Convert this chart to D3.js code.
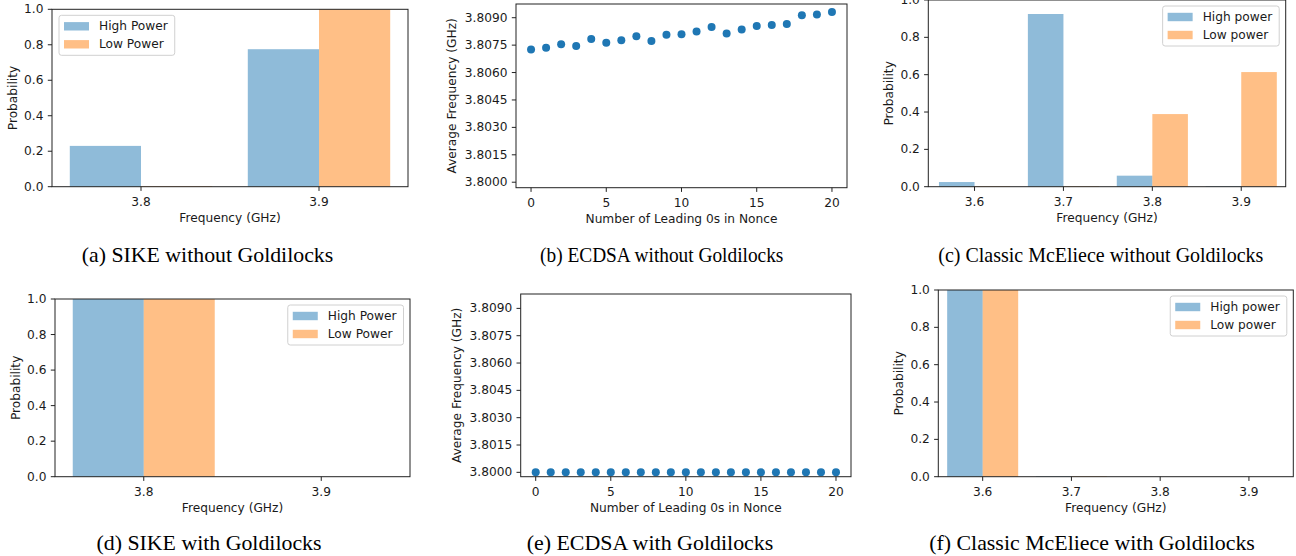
<!DOCTYPE html>
<html><head><meta charset="utf-8">
<script src="https://cdn.jsdelivr.net/npm/d3@7"></script>
<style>
html,body{margin:0;padding:0;background:#fff;}
svg{display:block;}
text{font-family:"DejaVu Sans",sans-serif;fill:#1a1a1a;}
.cap{font-family:"Liberation Serif","Times New Roman",serif;fill:#000;}
</style></head><body>
<script>
// ---------- DATA ----------
const sikeFreqs = [3.8, 3.9];
const sikeNoGoldHigh = [0.23, 0.775];
const sikeNoGoldLow = [0.004, 1.0];
const sikeGoldHigh = [1.0, 0.0];
const sikeGoldLow = [1.0, 0.0];

const mceFreqs = [3.6, 3.7, 3.8, 3.9];
const mceNoGoldHigh = [0.025, 0.925, 0.059, 0.003];
const mceNoGoldLow = [0.003, 0.003, 0.389, 0.614];
const mceGoldHigh = [1.0, 0.003, 0.0, 0.0];
const mceGoldLow = [1.0, 0.003, 0.0, 0.0];

const leadingZeros = [0,1,2,3,4,5,6,7,8,9,10,11,12,13,14,15,16,17,18,19,20];
const ecdsaNoGold = [3.80726,3.80735,3.80755,3.80745,3.80783,3.80763,3.80776,3.80798,3.80772,3.80807,3.8081,3.80825,3.80849,3.80814,3.80836,3.80854,3.8086,3.80865,3.80913,3.80918,3.80931];
const ecdsaGold = [3.8,3.8,3.8,3.8,3.8,3.8,3.8,3.8,3.8,3.8,3.8,3.8,3.8,3.8,3.8,3.8,3.8,3.8,3.8,3.8,3.8];

const probTicks = [0.0, 0.2, 0.4, 0.6, 0.8, 1.0];
const freqTicksEcdsa = [3.8000, 3.8015, 3.8030, 3.8045, 3.8060, 3.8075, 3.8090];
const zeroTicks = [0, 5, 10, 15, 20];
const legendSike = ["High Power", "Low Power"];
const legendMce = ["High power", "Low power"];
const captions = ["(a) SIKE without Goldilocks","(b) ECDSA without Goldilocks","(c) Classic McEliece without Goldilocks",
                  "(d) SIKE with Goldilocks","(e) ECDSA with Goldilocks","(f) Classic McEliece with Goldilocks"];

// ---------- STYLE ----------
const blue = "#1f77b4", orange = "#ff7f0e";
const W = 1296, H = 556;
const svg = d3.select("body").append("svg").attr("width", W).attr("height", H);

function axesFrame(g, r) {
  g.append("rect").attr("x", r.l).attr("y", r.t).attr("width", r.r - r.l).attr("height", r.b - r.t)
    .attr("fill", "none").attr("stroke", "#222").attr("stroke-width", 1);
}

function drawTicks(g, r, x, y, xt, yt, xfmt, yfmt) {
  const fs = 12.2;
  xt.forEach(v => {
    const px = x(v);
    g.append("line").attr("x1", px).attr("x2", px).attr("y1", r.b).attr("y2", r.b + 4.2).attr("stroke", "#222");
    g.append("text").attr("x", px).attr("y", r.b + 15).attr("text-anchor", "middle")
      .attr("dominant-baseline", "central").style("font-size", fs + "px").text(xfmt(v));
  });
  yt.forEach(v => {
    const py = y(v);
    g.append("line").attr("x1", r.l - 4.2).attr("x2", r.l).attr("y1", py).attr("y2", py).attr("stroke", "#222");
    g.append("text").attr("x", r.l - 8.5).attr("y", py).attr("text-anchor", "end")
      .attr("dominant-baseline", "central").style("font-size", fs + "px").text(yfmt(v));
  });
}

function labels(g, r, xl, yl, yoff) {
  g.append("text").attr("x", (r.l + r.r) / 2).attr("y", r.b + 31.6).attr("text-anchor", "middle")
    .attr("dominant-baseline", "central").style("font-size", "12.2px").text(xl);
  const cy = (r.t + r.b) / 2, cx = r.l - yoff;
  g.append("text").attr("transform", `translate(${cx},${cy}) rotate(-90)`).attr("text-anchor", "middle")
    .attr("dominant-baseline", "central").style("font-size", "12.2px").text(yl);
}

function legend(g, r, names, corner) {
  const fs = 12.2;
  const lg = g.append("g");
  const tmp = lg.append("text").style("font-size", fs + "px").text(names[0]);
  const tmp2 = lg.append("text").style("font-size", fs + "px").text(names[1]);
  const tw = Math.max(tmp.node().getComputedTextLength(), tmp2.node().getComputedTextLength());
  tmp.remove(); tmp2.remove();
  const bw = 40 + tw + 7, bh = 40;
  const bx = corner === "left" ? r.l + 7 : r.r - 6.5 - bw;
  const by = r.t + 6;
  lg.append("rect").attr("x", bx).attr("y", by).attr("width", bw).attr("height", bh).attr("rx", 2.5)
    .attr("fill", "#fff").attr("fill-opacity", 0.8).attr("stroke", "#d0d0d0").attr("stroke-width", 1);
  [blue, orange].forEach((c, i) => {
    const cy = by + 11 + i * 18;
    lg.append("rect").attr("x", bx + 5).attr("y", cy - 4.2).attr("width", 25).attr("height", 8.4)
      .attr("fill", c).attr("fill-opacity", 0.5);
    lg.append("text").attr("x", bx + 40).attr("y", cy).attr("dominant-baseline", "central")
      .style("font-size", fs + "px").text(names[i]);
  });
}

function barPanel(r, freqs, high, low, xdom, names, corner) {
  const g = svg.append("g");
  const x = d3.scaleLinear().domain(xdom).range([r.l, r.r]);
  const y = d3.scaleLinear().domain([0, 1]).range([r.b, r.t]);
  const bw = 0.04;
  const series = [{vals: high, c: blue, off: -bw}, {vals: low, c: orange, off: 0}];
  series.forEach(s => {
    g.selectAll(null).data(freqs).enter().append("rect")
      .attr("x", (d) => x(d + s.off))
      .attr("width", () => x(xdom[0] + bw) - x(xdom[0]))
      .attr("y", (d, i) => y(s.vals[i]))
      .attr("height", (d, i) => y(0) - y(s.vals[i]))
      .attr("fill", s.c).attr("fill-opacity", 0.5);
  });
  axesFrame(g, r);
  drawTicks(g, r, x, y, freqs, probTicks, d3.format(".1f"), d3.format(".1f"));
  labels(g, r, "Frequency (GHz)", "Probability", 39);
  legend(g, r, names, corner);
}

function scatterPanel(r, xs, ys, ydom) {
  const g = svg.append("g");
  const x = d3.scaleLinear().domain([-1, 21]).range([r.l, r.r]);
  const y = d3.scaleLinear().domain(ydom).range([r.b, r.t]);
  const clipId = "clip" + Math.round(r.l);
  g.append("clipPath").attr("id", clipId).append("rect").attr("x", r.l).attr("y", r.t)
    .attr("width", r.r - r.l).attr("height", r.b - r.t);
  g.append("g").attr("clip-path", `url(#${clipId})`).selectAll("circle").data(xs).enter().append("circle")
    .attr("cx", d => x(d)).attr("cy", (d, i) => y(ys[i])).attr("r", 4).attr("fill", blue);
  axesFrame(g, r);
  drawTicks(g, r, x, y, zeroTicks, freqTicksEcdsa, d3.format("d"), d3.format(".4f"));
  labels(g, r, "Number of Leading 0s in Nonce", "Average Frequency (GHz)", 64);
}

barPanel({l: 52, r: 408, t: 9.3, b: 186.7}, sikeFreqs, sikeNoGoldHigh, sikeNoGoldLow, [3.75, 3.95], legendSike, "left");
scatterPanel({l: 516, r: 847, t: 4, b: 187.7}, leadingZeros, ecdsaNoGold, [3.7997, 3.80975]);
barPanel({l: 928.3, r: 1285.7, t: 0, b: 186.7}, mceFreqs, mceNoGoldHigh, mceNoGoldLow, [3.548, 3.95], legendMce, "right");
barPanel({l: 55, r: 410, t: 299, b: 476.7}, sikeFreqs, sikeGoldHigh, sikeGoldLow, [3.75, 3.95], legendSike, "right");
scatterPanel({l: 520.7, r: 851, t: 294, b: 476.7}, leadingZeros, ecdsaGold, [3.79976, 3.80979]);
barPanel({l: 938.3, r: 1293.3, t: 290, b: 476.7}, mceFreqs, mceGoldHigh, mceGoldLow, [3.55, 3.95], legendMce, "right");

// caption layout: centre x, centre y, rendered width
const capLayout = [[207.5, 255, 251.5], [661.7, 255, 243.3], [1100.8, 255, 325], [209, 543, 225], [650, 543, 246.7], [1092, 543, 325.7]];
captions.forEach((c, i) => {
  const [cx, cy, w] = capLayout[i];
  svg.append("text").attr("class", "cap").attr("x", cx - w / 2).attr("y", cy)
    .attr("dominant-baseline", "central").attr("textLength", w).attr("lengthAdjust", "spacingAndGlyphs")
    .style("font-size", "21px").text(c);
});
</script>
</body></html>
